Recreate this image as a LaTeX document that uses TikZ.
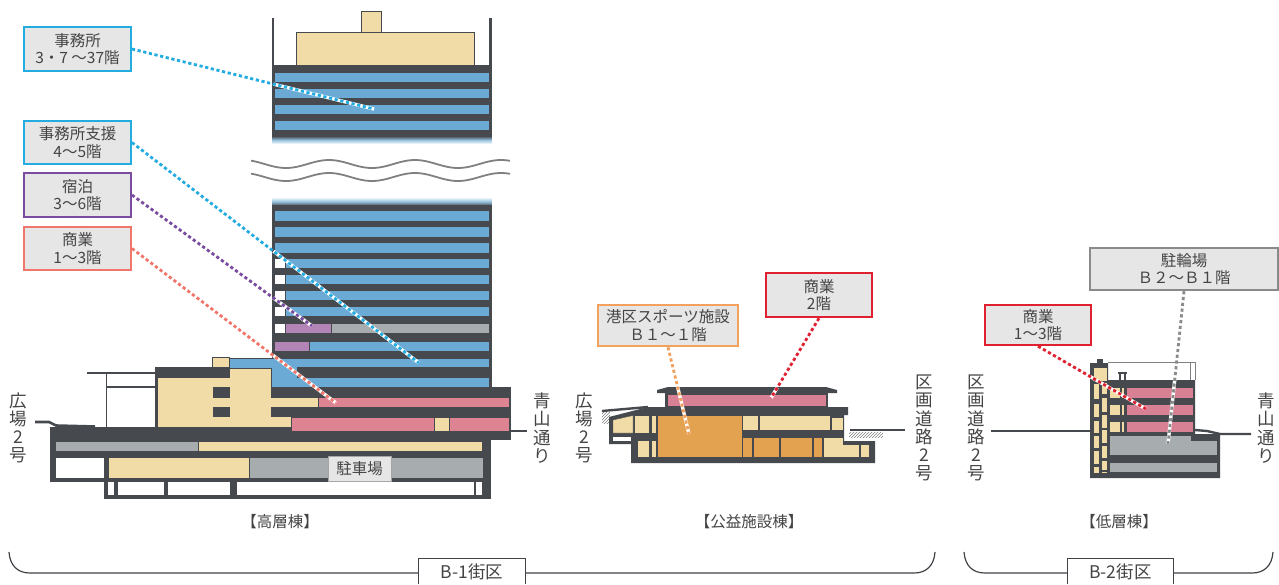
\documentclass[tikz,border=0pt]{standalone}
\usepackage{fontspec}
\setmainfont{Noto Sans CJK JP}
\usetikzlibrary{calc,patterns}
\definecolor{dk}{HTML}{46494E}
\definecolor{bl}{HTML}{6AAAD4}
\definecolor{be}{HTML}{F1DCA8}
\definecolor{pk}{HTML}{DE8391}
\definecolor{pkb}{HTML}{D88094}
\definecolor{gy}{HTML}{A7ACAF}
\definecolor{pu}{HTML}{B384B6}
\definecolor{org}{HTML}{E3A24F}
\definecolor{tx}{HTML}{444444}
\definecolor{boxf}{HTML}{E6E6E6}
\definecolor{ccyan}{HTML}{22ACE0}
\definecolor{cpur}{HTML}{7A4C9F}
\definecolor{csal}{HTML}{F0766C}
\definecolor{cred}{HTML}{DF2030}
\definecolor{corg}{HTML}{F2A15F}
\definecolor{cgry}{HTML}{8A8A8A}
\tikzset{
  callout/.style={draw=#1,fill=boxf,line width=2.4pt,text=tx,align=center,inner sep=0pt,
    font=\fontsize{15.5}{17.5}\selectfont},
  conn/.style={draw=#1,line width=2.8pt,dash pattern=on 3.2pt off 2.6pt},
  under/.style={draw=white,line width=3.4pt},
  cell/.style={fill=#1,draw=dk,line width=.3pt},
  caption/.style={text=tx,font=\fontsize{15.5}{17}\selectfont,inner sep=0pt},
  vlabel/.style={text=tx,align=center,inner sep=0pt,font=\fontsize{17.5}{18.2}\selectfont},
  bracket/.style={draw=dk!90!black,line width=1.2pt},
  blocktag/.style={text=tx,inner sep=0pt,font=\fontsize{17.5}{19}\selectfont,fill=white},
  hatch/.style={pattern=north east lines,pattern color=gray},
}
\newcommand{\rc}[5]{\fill[cell=#1] (#2,#3) rectangle (#4,#5);}
\begin{document}
\begin{tikzpicture}[x=1pt,y=-1pt]
\useasboundingbox (0,0) rectangle (1279,584);

% ---------- high-rise: top
\draw[dk,line width=2.4pt] (273,18) -- (273,140) (490.5,18) -- (490.5,140);
\rc{be}{361}{11}{381}{32}
\rc{be}{296}{32}{474}{65}
\fill[dk] (272,65) rectangle (491.5,136);
\foreach \a/\b in {72.5/82.5,88/98.5,104/114,120/130} {\rc{bl}{274}{\a}{489.5}{\b}}
\shade[top color=dk,bottom color=white,middle color=bl!70!white] (272,136) rectangle (491.5,144);
% waves
\foreach \yy in {164,177}
  \draw[gray,line width=1.8pt] plot[domain=251:510,samples=90,smooth] (\x,{\yy-4*cos((\x-329)*4.186)});
% ---------- high-rise: shaft
\shade[top color=white,bottom color=dk,middle color=bl!70!white] (272,197) rectangle (491.5,206);
\fill[dk] (272,205) rectangle (491.5,390);
\foreach \a/\b in {210.5/221,226.5/237.5,242.5/253} {\rc{bl}{274}{\a}{489.5}{\b}}
\foreach \a/\b in {258/268.5,274.5/284.5,290/300,306/316} {\rc{white}{274}{\a}{285}{\b}\rc{bl}{285.5}{\a}{489.5}{\b}}
\rc{white}{274}{323.5}{285}{333.5}
\rc{pu}{285.5}{323.5}{331}{333.5}
\rc{gy}{331.5}{323.5}{489.5}{333.5}
\rc{pu}{274}{341.5}{309}{351.5}
\rc{bl}{309.5}{341.5}{489.5}{351.5}
% blue wedge
\fill[cell=bl] (229,358) -- (489.5,358) -- (489.5,367) -- (297,367) -- (297,377) -- (489.5,377) -- (489.5,387) -- (271,387) -- (271,368) -- (229,368) -- cycle;
% podium
\fill[dk] (271,387) rectangle (511,431);
\fill[dk] (50,427) rectangle (511,440);
\fill[dk] (50,440) rectangle (490.5,482);
\fill[dk] (104,482) rectangle (491,499);
\rc{be}{212}{357}{229}{367}
\fill[dk] (155,367) rectangle (229,378);
\fill[dk] (155,378) rectangle (157,427);
\fill[cell=be] (157,377) -- (229,377) -- (229,368) -- (271,368) -- (271,397) -- (318.5,397) -- (318.5,407) -- (271,407) -- (271,416) -- (291,416) -- (291,427) -- (157,427) -- cycle;
\rc{dk}{213}{387}{229}{397}
\rc{dk}{213}{407}{229}{416}
\rc{pk}{318.5}{397}{509}{407}
\rc{pk}{291}{417}{509}{431}
\rc{be}{434}{417}{449}{431}
\rc{gy}{55}{441}{198}{451}
\rc{be}{198}{441}{482}{451}
\rc{white}{55}{457}{104}{478}
\rc{be}{108}{457}{249}{478}
\rc{gy}{249}{457}{483}{478}
\foreach \a/\b in {108/114,118/164,168/230,237/474,476/482} {\fill[white] (\a,482) rectangle (\b,495);}
% canopy and ground
\draw[dk,line width=1.4pt] (87,373) -- (155,373) (106.5,373) -- (106.5,427) (106.5,387) -- (155,387);
\draw[dk,line width=2.6pt] (35,422) -- (49,422) -- (56,425.5) -- (95,426.5);
\draw[dk,line width=2.4pt] (511,431) -- (527,431);
\node[draw=gray!70,fill=boxf,line width=1pt,text=tx,inner sep=0pt,minimum width=63pt,minimum height=25pt,font=\fontsize{15.5}{17}\selectfont] (park) at (359.5,468.5) {駐車場};

% ---------- public facility building
\draw[dk,line width=2.8pt] (850,430) -- (905,430);
\fill[hatch] (849,432) rectangle (883,437);
\fill[hatch] (602,412) rectangle (610,423);
\draw[dk,line width=2.4pt] (602,411) -- (648,407);
\fill[dk] (657,390) -- (668,387) -- (826,387) -- (837,390) -- (837,393) -- (657,393) -- cycle;
\fill[dk] (665,393) rectangle (828,407);
\rc{pkb}{667}{394}{826}{406}
\fill[dk] (609,417) -- (648,407) -- (848,407) -- (848,415) -- (844,415) -- (844,441) -- (875,441) -- (875,463) -- (631,463) -- (631,444) -- (609,444) -- cycle;
\fill[white] (613,437) rectangle (631,441);
\fill[cell=be] (613,420) -- (633,415.5) -- (633,433) -- (613,433) -- cycle;
\rc{be}{634}{415}{649}{433}
\rc{be}{651}{415}{656.5}{433}
\rc{be}{637}{440}{649}{457}
\rc{be}{651}{440}{656.5}{457}
\rc{org}{657}{415}{742}{457}
\rc{be}{742}{415}{758.5}{430}
\rc{be}{759.5}{415}{830}{430}
\rc{be}{831}{417}{843}{430}
\rc{org}{742}{437}{752.5}{457}
\rc{org}{753.5}{437}{779}{457}
\rc{org}{780}{437}{812}{457}
\rc{org}{813}{437}{822}{457}
\fill[cell=be] (823,437) -- (843,437) -- (843,444) -- (859,444) -- (859,457) -- (823,457) -- cycle;
\rc{be}{860}{444}{869}{457}

% ---------- low-rise building
\draw[dk,line width=2.8pt] (991,431) -- (1090,431);
\draw[dk,line width=2.4pt] (1195,430) -- (1207,431) -- (1220,434) -- (1251,434);
\draw[gray,line width=1pt] (1108,362) -- (1195,362) (1190.5,362) -- (1190.5,380) (1195,362) -- (1195,380);
\fill[dk] (1097,359) rectangle (1103,364);
\fill[dk] (1090,363) -- (1108,363) -- (1108,380) -- (1195,380) -- (1195,434) -- (1220,434) -- (1220,478) -- (1090,478) -- cycle;
\fill[dk] (1118,372) rectangle (1127,374);
\fill[dk] (1119,374) rectangle (1121,380);
\fill[dk] (1124,374) rectangle (1126,380);
\rc{be}{1093}{367}{1107}{381}
\foreach \a/\b in {383/399,403/417,420/433,435/448,450/464,466/473} {\rc{be}{1093}{\a}{1099.5}{\b}}
\foreach \a/\b in {382/394,397/412,414/428,429/443,445/458,460/470,471/473} {\rc{be}{1101}{\a}{1107}{\b}}
\foreach \a/\b in {387/398,404/415,421/432} {\rc{be}{1109}{\a}{1120.5}{\b}\rc{be}{1121.5}{\a}{1124}{\b}\rc{pkb}{1126}{\a}{1193}{\b}}
\fill[cell=gy] (1109,435) -- (1191,435) -- (1191,440) -- (1217,440) -- (1217,455) -- (1109,455) -- cycle;
\rc{gy}{1109}{462}{1217}{472}

% ---------- callouts
\node[callout=ccyan,minimum width=106.5pt,minimum height=44pt] (office) at (77.5,49) {事務所\\3・7 ～37階};
\node[callout=ccyan,minimum width=106.5pt,minimum height=43pt] (support) at (77.5,142.5) {事務所支援\\4～5階};
\node[callout=cpur,minimum width=106.5pt,minimum height=44pt] (hotel) at (77.5,195) {宿泊\\3～6階};
\node[callout=csal,minimum width=106.5pt,minimum height=43pt] (shopa) at (77.5,248.5) {商業\\1～3階};
\node[callout=cred,minimum width=106pt,minimum height=44pt] (shopb) at (819,295) {商業\\2階};
\node[callout=corg,minimum width=140pt,minimum height=41pt] (sports) at (668,325.5) {港区スポーツ施設\\Ｂ１～１階};
\node[callout=cgry,minimum width=188pt,minimum height=42pt] (bike) at (1184,269) {駐輪場\\Ｂ２～Ｂ１階};
\node[callout=cred,minimum width=106pt,minimum height=40pt] (shopc) at (1038,325) {商業\\1～3階};

% ---------- connectors
\coordinate (e1) at (374,109);
\coordinate (e2) at (419,363);
\coordinate (e3) at (312,326);
\coordinate (e4) at (336,403);
\coordinate (e5) at (771,398);
\coordinate (e6) at (689,434);
\coordinate (e7) at (1168,444);
\coordinate (e8) at (1146,409);
\draw[under] ($(office.east)!.585!(e1)$) -- (e1);
\draw[conn=ccyan] (office.east) -- (e1);
\draw[under] ($(support.east)!.493!(e2)$) -- (e2);
\draw[conn=ccyan] (support.east) -- (e2);
\draw[under] ($(hotel.east)!.785!(e3)$) -- (e3);
\draw[conn=cpur] (hotel.east) -- (e3);
\draw[under] ($(shopa.east)!.693!(e4)$) -- (e4);
\draw[conn=csal] (shopa.east) -- (e4);
\draw[under] ($(shopb.south)!.87!(e5)$) -- (e5);
\draw[conn=cred] (shopb.south) -- (e5);
\draw[under] ($(sports.south)!.46!(e6)$) -- (e6);
\draw[conn=corg] (sports.south) -- (e6);
\draw[under] ($(bike.south)!.58!(e7)$) -- (e7);
\draw[conn=cgry] (bike.south) -- (e7);
\draw[under] ($(shopc.south)!.48!(e8)$) -- (e8);
\draw[conn=cred] (shopc.south) -- (e8);

% ---------- side labels
\node[vlabel] (l1) at (18,428) {広\\場\\2\\号};
\node[vlabel] (l2) at (542,428) {青\\山\\通\\り};
\node[vlabel] (l3) at (584,428) {広\\場\\2\\号};
\node[vlabel] (l4) at (924,428) {区\\画\\道\\路\\2\\号};
\node[vlabel] (l5) at (976,428) {区\\画\\道\\路\\2\\号};
\node[vlabel] (l6) at (1266,428) {青\\山\\通\\り};

% ---------- captions
\node[caption] (c1) at (280,522) {【高層棟】};
\node[caption] (c2) at (749,522) {【公益施設棟】};
\node[caption] (c3) at (1119,522) {【低層棟】};

% ---------- block brackets
\node[blocktag,minimum width=106pt,minimum height=25pt] (b1) at (472,571.5) {\raisebox{-3pt}{B-1街区}};
\node[blocktag,minimum width=105pt,minimum height=25pt] (b2) at (1120.5,571.5) {\raisebox{-3pt}{B-2街区}};
\coordinate (b1l) at (9,552); \coordinate (b1r) at (935,552);
\coordinate (b2l) at (964,552); \coordinate (b2r) at (1273,552);
\draw[bracket] (b1.south west) -- (b1.north west) -- (b1.north east) -- (b1.south east);
\draw[bracket] (b2.south west) -- (b2.north west) -- (b2.north east) -- (b2.south east);
\draw[bracket] (b1l) .. controls (10,566) and (18,573) .. (30,573) -- (b1.west|-0,573);
\draw[bracket] (b1r) .. controls (934,566) and (926,573) .. (914,573) -- (b1.east|-0,573);
\draw[bracket] (b2l) .. controls (965,566) and (973,573) .. (985,573) -- (b2.west|-0,573);
\draw[bracket] (b2r) .. controls (1272,566) and (1264,573) .. (1252,573) -- (b2.east|-0,573);
\end{tikzpicture}
\end{document}
